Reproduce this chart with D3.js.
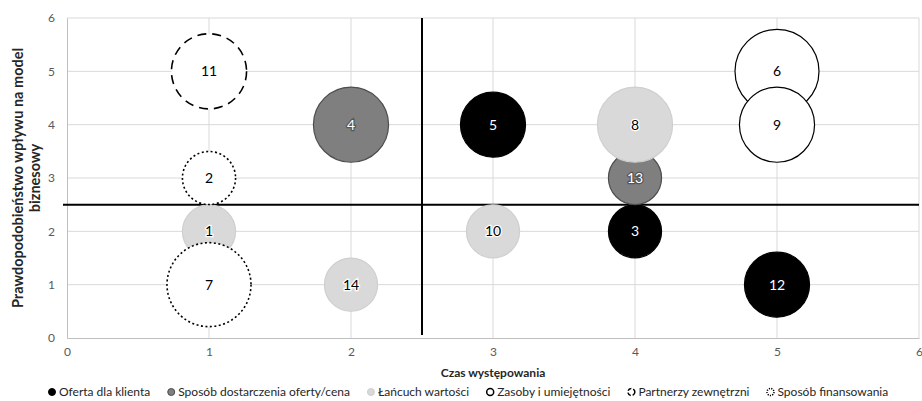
<!DOCTYPE html>
<html>
<head>
<meta charset="utf-8">
<script src="https://cdn.jsdelivr.net/npm/d3@7"></script>
<style>
  body { margin: 0; background: #fff; }
  svg { display: block; font-family: Lato, "Open Sans", sans-serif; }
</style>
</head>
<body>
<div id="chart"></div>
<script>
// series, in legend / draw order
const seriesNames = ['Oferta dla klienta', 'Sposób dostarczenia oferty/cena', 'Łańcuch wartości',
  'Zasoby i umiejętności', 'Partnerzy zewnętrzni', 'Sposób finansowania'];

// bubbles: id label, series index, x (czas), y (prawdopodobieństwo), size
const bubbleIds    = [5, 3, 12, 4, 13, 1, 8, 10, 14, 6, 9, 11, 2, 7];
const bubbleSeries = [0, 0, 0, 1, 1, 2, 2, 2, 2, 3, 3, 4, 5, 5];
const bubbleX      = [3, 4, 5, 2, 4, 1, 4, 3, 2, 5, 5, 1, 1, 1];
const bubbleY      = [4, 2, 1, 4, 3, 2, 4, 2, 1, 5, 4, 5, 3, 1];
const bubbleSize   = [3, 2, 3, 4, 2, 2, 4, 2, 2, 5, 4, 4, 2, 5];

const xTicks = [0, 1, 2, 3, 4, 5, 6];
const yTicks = [0, 1, 2, 3, 4, 5, 6];
const splitX = 2.5, splitY = 2.5;

const xTitle = 'Czas występowania';
const yTitle = ['Prawdopodobieństwo wpływu na model', 'biznesowy'];

const styles = [
  { fill: '#000000', stroke: '#000000', dash: null, text: '#ffffff', halo: '#000000' },
  { fill: '#7f7f7f', stroke: '#4d4d4d', dash: null, text: '#ffffff', halo: '#555555' },
  { fill: '#d9d9d9', stroke: '#cfcfcf', dash: null, text: '#000000', halo: '#ffffff' },
  { fill: '#ffffff', stroke: '#000000', dash: null, text: '#000000', halo: '#ffffff' },
  { fill: '#ffffff', stroke: '#000000', dash: '9,6', text: '#000000', halo: '#ffffff' },
  { fill: '#ffffff', stroke: '#000000', dash: '2,2.5', text: '#000000', halo: '#ffffff' }
];

const W = 922, H = 401;
const margin = { top: 18, right: 3, bottom: 63, left: 67 };

const svg = d3.select('#chart').append('svg').attr('width', W).attr('height', H);

const x = d3.scaleLinear().domain([0, 6]).range([margin.left, W - margin.right]);
const y = d3.scaleLinear().domain([0, 6]).range([H - margin.bottom, margin.top]);
const r = d3.scaleSqrt().domain([0, 5]).range([0, 42]);

// gridlines
svg.append('g').selectAll('line.gx').data(xTicks.slice(1)).join('line')
  .attr('x1', d => x(d)).attr('x2', d => x(d))
  .attr('y1', y(6)).attr('y2', y(0))
  .attr('stroke', '#d9d9d9').attr('stroke-width', 1);
svg.append('g').selectAll('line.gy').data(yTicks.slice(1)).join('line')
  .attr('x1', x(0)).attr('x2', x(6))
  .attr('y1', d => y(d)).attr('y2', d => y(d))
  .attr('stroke', '#d9d9d9').attr('stroke-width', 1);

// axes
const xAxis = svg.append('g')
  .attr('transform', `translate(0,${y(0)})`)
  .call(d3.axisBottom(x).tickValues(xTicks).tickFormat(d3.format('d')).tickSize(0).tickPadding(9));
const yAxis = svg.append('g')
  .attr('transform', `translate(${x(0)},0)`)
  .call(d3.axisLeft(y).tickValues(yTicks).tickFormat(d3.format('d')).tickSize(0).tickPadding(12));
[xAxis, yAxis].forEach(a => {
  a.select('.domain').attr('stroke', '#bfbfbf');
  a.selectAll('text').attr('fill', '#595959').style('font-size', '12px')
    .style('font-family', 'Lato, sans-serif');
});

// quadrant split lines
svg.append('line')
  .attr('x1', x(splitX)).attr('x2', x(splitX))
  .attr('y1', y(6)).attr('y2', y(0) - 3)
  .attr('stroke', '#000').attr('stroke-width', 2);
svg.append('line')
  .attr('x1', x(0) - 4).attr('x2', x(6))
  .attr('y1', y(splitY)).attr('y2', y(splitY))
  .attr('stroke', '#000').attr('stroke-width', 2);

// bubbles
const bubbles = bubbleIds.map((id, i) => ({
  id, s: bubbleSeries[i], x: bubbleX[i], y: bubbleY[i], size: bubbleSize[i]
}));

const g = svg.append('g').selectAll('g').data(bubbles).join('g')
  .attr('transform', d => `translate(${x(d.x)},${y(d.y)})`);

g.append('circle')
  .attr('r', d => r(d.size))
  .attr('fill', d => styles[d.s].fill)
  .attr('stroke', d => styles[d.s].stroke)
  .attr('stroke-width', d => d.s >= 4 ? 1.6 : 1.2)
  .attr('stroke-dasharray', d => styles[d.s].dash);

g.append('text')
  .attr('text-anchor', 'middle')
  .attr('dy', '0.36em')
  .style('font-size', '14px')
  .attr('fill', d => styles[d.s].text)
  .attr('stroke', d => styles[d.s].halo)
  .attr('stroke-width', 2.5)
  .attr('paint-order', 'stroke')
  .text(d => d.id);

// axis titles
svg.append('text')
  .attr('x', (x(0) + x(6)) / 2).attr('y', 377)
  .attr('text-anchor', 'middle')
  .style('font-size', '12px').style('font-weight', 'bold')
  .attr('fill', '#262626')
  .text(xTitle);

const yt = svg.append('text')
  .attr('transform', `translate(23,${(y(0) + y(6)) / 2}) rotate(-90)`)
  .attr('text-anchor', 'middle')
  .style('font-size', '14.5px').style('font-weight', 'bold')
  .attr('fill', '#262626');
yTitle.forEach((t, i) => {
  yt.append('tspan').attr('x', 0).attr('dy', i === 0 ? 0 : 17).text(t);
});

// legend
const legend = svg.append('g').attr('transform', 'translate(48,392)');
let lx = 0;
seriesNames.forEach((name, i) => {
  const item = legend.append('g').attr('transform', `translate(${lx},0)`);
  const st = styles[i];
  item.append('circle')
    .attr('cx', 4).attr('cy', 0).attr('r', 3.5)
    .attr('fill', st.fill)
    .attr('stroke', st.stroke)
    .attr('stroke-width', i >= 3 ? 1.5 : 1)
    .attr('stroke-dasharray', i === 4 ? '4,2' : (i === 5 ? '1.2,1.2' : null));
  const t = item.append('text')
    .attr('x', 11).attr('dy', '0.35em')
    .style('font-size', '12px')
    .attr('fill', '#262626')
    .text(name);
  lx += 11 + t.node().getComputedTextLength() + 17;
});
</script>
</body>
</html>
